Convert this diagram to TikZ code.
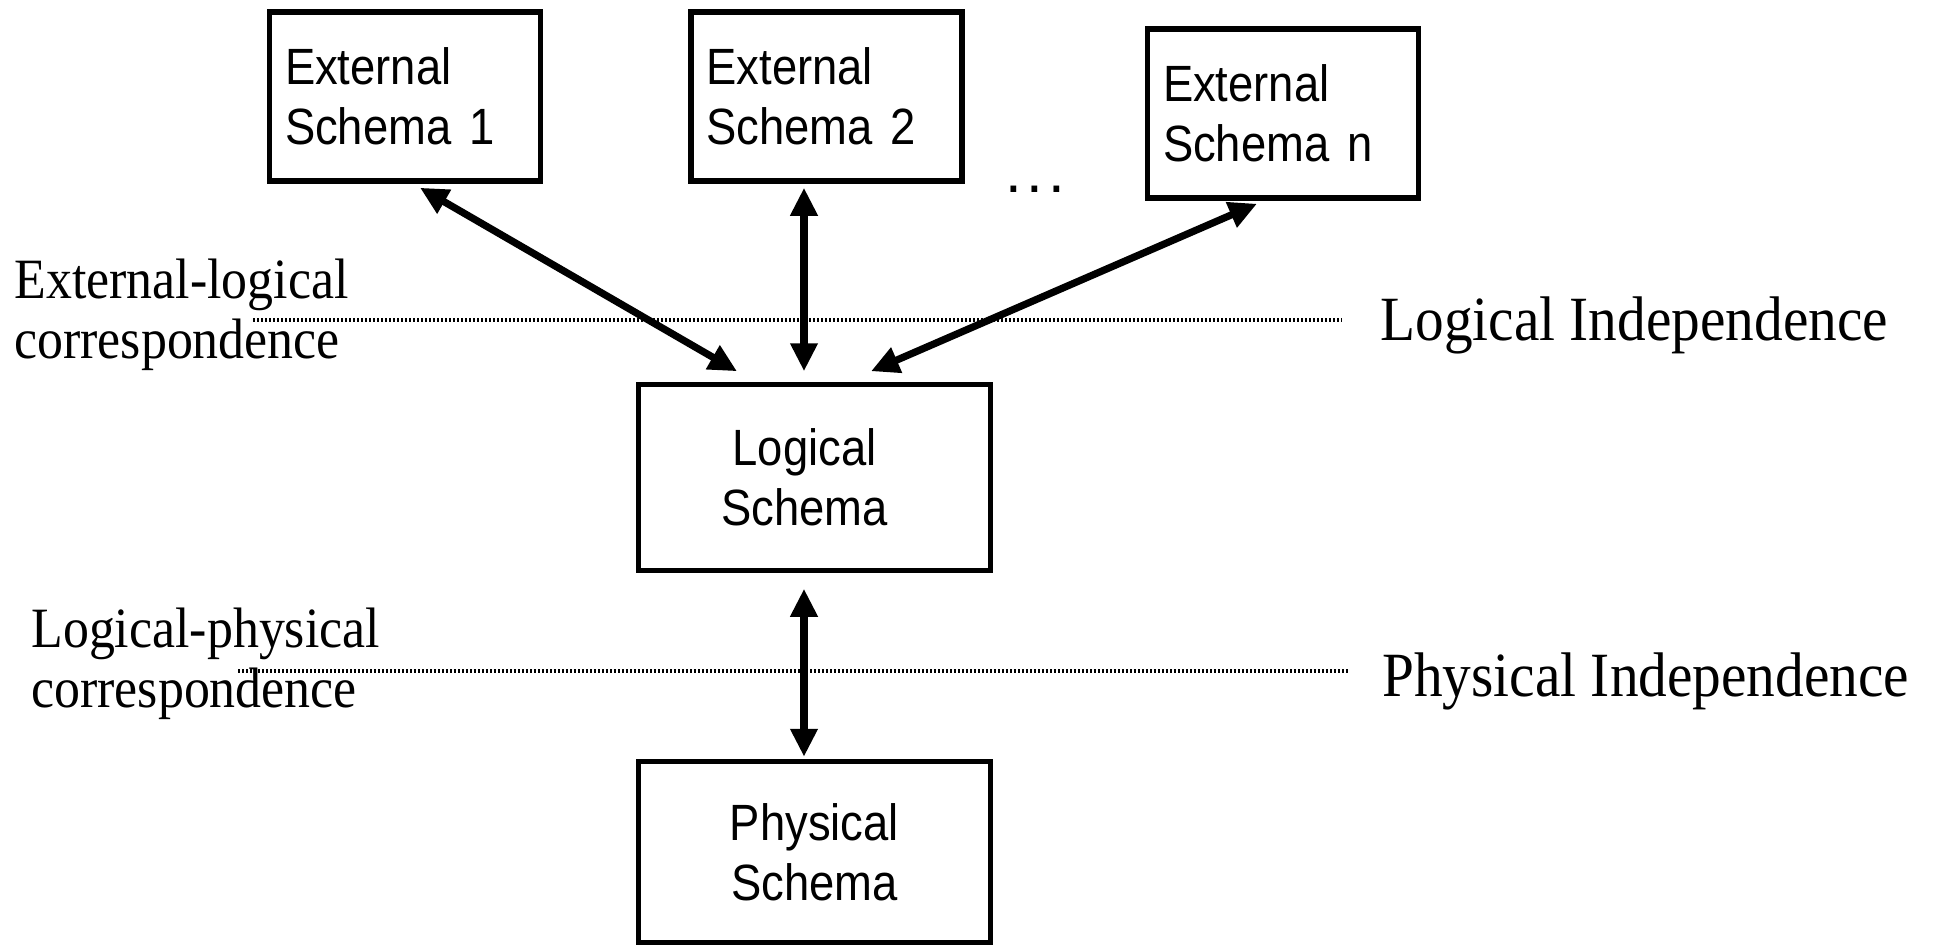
\documentclass[tikz,border=0pt]{standalone}
\usepackage{fontspec}
\usetikzlibrary{arrows.meta,calc}
\newfontfamily\boxfont[FakeStretch=0.89]{Liberation Sans}
\newfontfamily\dotfont{Liberation Sans}
\newfontfamily\labelfont[FakeStretch=0.91]{Liberation Serif}
\begin{document}
\begin{tikzpicture}
	[x=0.5pt,y=-0.5pt,
	mybox/.style={draw,line width=2.75pt,inner sep=0pt,font=\boxfont\fontsize{25.5}{30}\selectfont},
	extbox/.style={mybox,align=left,text width=120pt,minimum width=135.5pt,minimum height=84.5pt},
	levelbox/.style={mybox,align=center,minimum width=176pt},
	myarrow/.style={line width=3.6pt,{Triangle[length=14pt,width=13pt]}-{Triangle[length=14pt,width=13pt]}},
	myline/.style={line width=2pt,dash pattern=on 1.2pt off 0.8pt},
	leftlabel/.style={font=\labelfont\fontsize{28.5}{30}\selectfont,align=left,anchor=base west,inner sep=0pt},
	rightlabel/.style={font=\labelfont\fontsize{31.5}{36}\selectfont,anchor=base west,inner sep=0pt}]
	\useasboundingbox (0,0) rectangle (1939,947);
	\node[extbox,name=ext1] at (405,96.5) {External\\Schema\hspace{9pt}1};
	\node[extbox,name=ext2] at (826.5,96.5) {External\\Schema\hspace{9pt}2};
	\node[extbox,name=extn] at (1283,113.5) {External\\Schema\hspace{9pt}n};
	\node[name=dots,anchor=base,inner sep=0pt,font=\dotfont\fontsize{30}{30}\selectfont] at (1035,192) {.\hspace{2.5pt}.\hspace{2.5pt}.};
	\node[levelbox,name=logical,minimum height=93pt] at (814.5,477.5) {Logical\hspace*{10pt}\\Schema\hspace*{10pt}};
	\node[levelbox,name=physical,minimum height=90.5pt] at (814.5,852) {Physical\\Schema};
	\draw[myarrow] ($(ext1.south)+(15,4)$) -- ($(logical.north)+(-77.5,-10.5)$);
	\draw[myarrow] ($(ext2.south)+(-22.5,4)$) -- ($(logical.north)+(-10.5,-10.5)$);
	\draw[myarrow] ($(extn.south)+(-26,3)$) -- ($(logical.north)+(56.5,-10.5)$);
	\draw[myarrow] ($(logical.south)+(-10.5,15.5)$) -- ($(physical.north)+(-10.5,-2)$);
	\draw[myline] (253,320) -- (1342,320);
	\draw[myline] (238,671) -- (1349,671);
	\node[leftlabel,name=extlog] at (14,358) {External-logical\\correspondence};
	\node[leftlabel,name=logphys] at (31,707) {Logical-physical\\correspondence};
	\node[rightlabel,name=logind] at (1380,340) {Logical Independence};
	\node[rightlabel,name=physind] at (1382,696) {Physical Independence};
\end{tikzpicture}
\end{document}
